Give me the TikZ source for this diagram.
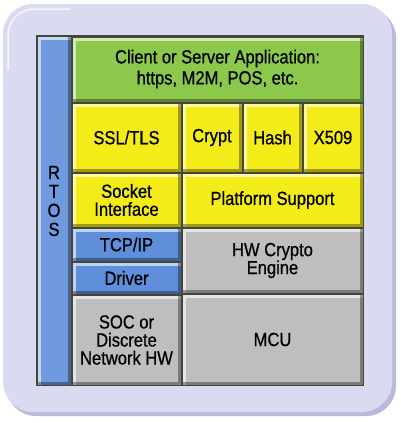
\documentclass[tikz,border=0pt]{standalone}
\usepackage{fontspec}
\setmainfont[FakeStretch=0.87,FakeBold=0.7]{Liberation Sans}
\definecolor{lavender}{HTML}{DADAF0}
\definecolor{lavshade}{HTML}{B9B9DC}
\definecolor{appgreen}{HTML}{8CC84B}
\definecolor{ssyellow}{HTML}{F4EC18}
\definecolor{netblue}{HTML}{5F8FDA}
\definecolor{hwgrey}{HTML}{BEBEBE}
\definecolor{edge}{HTML}{45453A}

\begin{document}
\begin{tikzpicture}[x=1pt,y=-1pt]
    \tikzset{%
      bevel/.style={path picture={
        \draw[white, opacity=0.6, line width=7pt]
          (path picture bounding box.south west) -- (path picture bounding box.north west)
          -- (path picture bounding box.north east);
        \draw[black, opacity=0.35, line width=7pt]
          (path picture bounding box.north east) -- (path picture bounding box.south east)
          -- (path picture bounding box.south west);}},
      blk/.style={rectangle, draw=edge, line width=0.9pt, inner sep=0pt,
        align=center, font=\fontsize{19}{18}\selectfont, bevel},
      appbox/.style={blk, fill=appgreen},
      ybox/.style={blk, fill=ssyellow},
      bbox/.style={blk, fill=netblue},
      gbox/.style={blk, fill=hwgrey},
    }
    \useasboundingbox (0,0) rectangle (400,423);
    % rounded backdrop
    \fill[lavshade, rounded corners=30pt] (6,8) rectangle (396,416);
    \fill[lavender, rounded corners=30pt] (3,4) rectangle (392,412);
    \draw[white, opacity=0.8, line width=1.5pt, rounded corners=26pt]
      (8,70) -- (8,9) -- (70,9);
    \fill[edge] (36,35) rectangle (364,386);

    % RTOS bar
    \node[bbox, fill=netblue!90!white, minimum width=34pt, minimum height=349pt]
      (rtos) at (54,210.5) {};
    \node[font=\fontsize{19}{19}\selectfont, align=center] (rtoslabel)
      at (54,201) {R\\T\\O\\S};

    % application
    \node[appbox, font=\fontsize{19}{21}\selectfont, minimum width=291pt,
      minimum height=65pt, text depth=5pt] (app) at (217.5,69.5)
      {Client or Server Application:\\https, M2M, POS, etc.};

    % security row
    \node[ybox, minimum width=109pt, minimum height=69pt] (ssl) at (126.5,137.5) {SSL/TLS};
    \node[ybox, minimum width=60pt, minimum height=69pt] (crypt) at (212,137.5) {Crypt};
    \node[ybox, minimum width=59pt, minimum height=69pt] (hash) at (272.5,137.5) {Hash};
    \node[ybox, minimum width=60pt, minimum height=69pt] (xcert) at (333,137.5) {X509};

    \node[ybox, minimum width=109pt, minimum height=54pt] (socket) at (126.5,200)
      {Socket\\Interface};
    \node[ybox, minimum width=181pt, minimum height=54pt] (platform) at (272.5,200)
      {Platform Support};

    % network side
    \node[bbox, minimum width=109pt, minimum height=33pt] (tcp) at (126.5,244.5) {TCP/IP};
    \node[bbox, minimum width=109pt, minimum height=32pt] (driver) at (126.5,278) {Driver};
    \node[gbox, minimum width=109pt, minimum height=90pt] (soc) at (126.5,340)
      {SOC or\\Discrete\\Network HW};

    % hardware side
    \node[gbox, minimum width=181pt, minimum height=65pt] (hwcrypto) at (272.5,260.5)
      {HW Crypto\\Engine};
    \node[gbox, minimum width=181pt, minimum height=91pt] (mcu) at (272.5,339.5) {MCU};
\end{tikzpicture}
\end{document}
